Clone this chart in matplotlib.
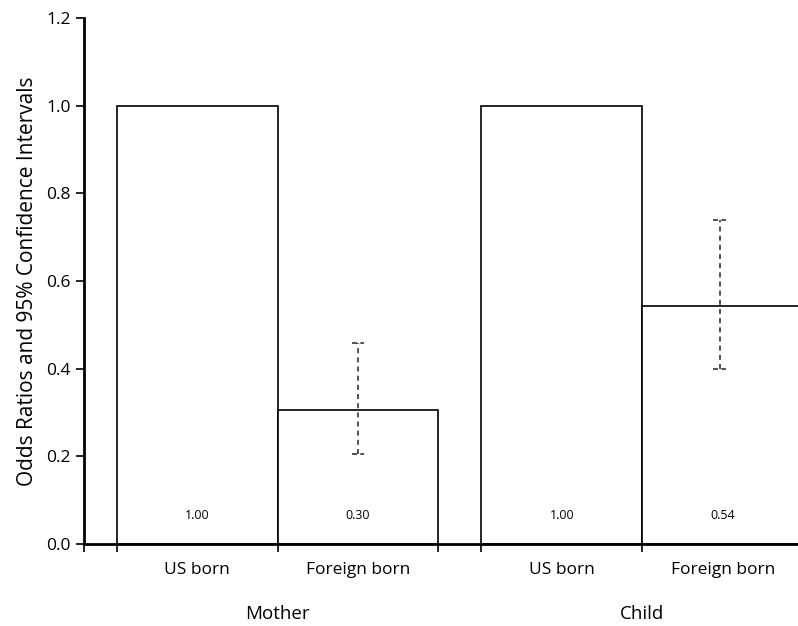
import matplotlib
matplotlib.use("Agg")
import matplotlib.pyplot as plt
import numpy as np

plt.rcParams['font.family'] = ['Open Sans', 'DejaVu Sans']

groups = ["Mother", "Child"]
categories = ["US born", "Foreign born", "US born", "Foreign born"]
odds = [1.00, 0.305, 1.00, 0.543]
ci_low = [None, 0.205, None, 0.399]
ci_high = [None, 0.459, None, 0.739]
value_labels = ["1.00", "0.30", "1.00", "0.54"]
yticks = [0.0, 0.2, 0.4, 0.6, 0.8, 1.0, 1.2]

fig = plt.figure(figsize=(7.98, 6.26), dpi=100)
ax = fig.add_axes([0.105, 0.131, 0.895, 0.840])

width = 1.0
centers = np.array([0.705, 1.705, 2.972, 3.972])
err_shift = [0.0, 0.0, 0.0, -0.02]
ax.bar(centers, odds, width=width, color="white", edgecolor="black", linewidth=1.2, zorder=2)

for c, dx, lo, hi, lab in zip(centers, err_shift, ci_low, ci_high, value_labels):
    ax.text(c, 0.064, lab, ha="center", va="center", fontsize=9)
    if lo is not None:
        xc = c + dx
        ax.plot([xc, xc], [lo, hi], color="#333333", linestyle=(0, (3, 2.5)), linewidth=1.2, zorder=3)
        for y in (lo, hi):
            ax.plot([xc - 0.04, xc + 0.04], [y, y], color="#333333", linestyle=(0, (3, 2)), linewidth=1.2, zorder=3)

ax.set_xlim(0, 4.44)
ax.set_ylim(0, 1.2)
ax.set_yticks(yticks)
ax.set_yticklabels([f"{t:.1f}" for t in yticks], fontsize=12.5)

edges = [0, centers[0] - 0.5, centers[1] - 0.5, centers[1] + 0.5, centers[2] - 0.5, centers[3] - 0.5]
ax.set_xticks(edges)
ax.set_xticklabels([""] * len(edges))
ax.tick_params(axis="both", direction="out", length=6, width=1.2)

for c, lab in zip(centers, categories):
    ax.text(c, -0.06, lab, ha="center", va="center", fontsize=12.5, clip_on=False)
for g, (a, b) in zip(groups, [(0, 1), (2, 3)]):
    ax.text((centers[a] + centers[b]) / 2, -0.16, g, ha="center", va="center", fontsize=13.5, clip_on=False)

ax.set_ylabel("Odds Ratios and 95% Confidence Intervals", fontsize=15, labelpad=6)

for s in ["top", "right"]:
    ax.spines[s].set_visible(False)
for s in ["left", "bottom"]:
    ax.spines[s].set_linewidth(2)

fig.savefig("out.png", dpi=100)
